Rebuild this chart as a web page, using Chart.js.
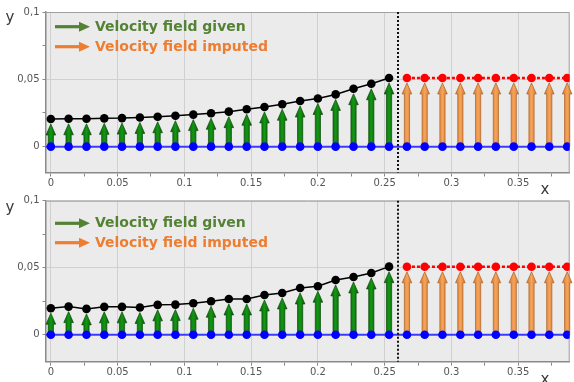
<!DOCTYPE html>
<html><head><meta charset="utf-8">
<script src="https://cdn.jsdelivr.net/npm/chart.js@4.4.1/dist/chart.umd.min.js"></script>
<style>
html,body{margin:0;padding:0;background:#fff;width:574px;height:382px;overflow:hidden;}
.wrap{position:absolute;left:0;width:574px;}
#w1{top:0;height:200px;}
#w2{top:190px;height:192px;}
</style></head><body>
<div class="wrap" id="w1"><canvas id="c1"></canvas></div>
<div class="wrap" id="w2"><canvas id="c2"></canvas></div>
<script>
// ---- data ----
const xGiven = [0, 0.0133, 0.0267, 0.04, 0.0533, 0.0667, 0.08, 0.0933, 0.1067, 0.12,
                0.1333, 0.1467, 0.16, 0.1733, 0.1867, 0.2, 0.2133, 0.2267, 0.24, 0.2533];
const xImputed = [0.2667, 0.28, 0.2933, 0.3067, 0.32, 0.3333, 0.3467, 0.36, 0.3733, 0.3867];
const topGiven = [0.0205, 0.0207, 0.0207, 0.0210, 0.0212, 0.0217, 0.0222, 0.0230, 0.0238, 0.0248,
                  0.0260, 0.0278, 0.0295, 0.0315, 0.0339, 0.0358, 0.0388, 0.0430, 0.0467, 0.0510];
const topImputed = [0.051, 0.051, 0.051, 0.051, 0.051, 0.051, 0.051, 0.051, 0.051, 0.051];
const bottomGiven = [0.0198, 0.0210, 0.0193, 0.0208, 0.0208, 0.0203, 0.0223, 0.0225, 0.0235, 0.0250,
                     0.0267, 0.0267, 0.0297, 0.0312, 0.0349, 0.0362, 0.0409, 0.0431, 0.0461, 0.0508];
const bottomImputed = [0.0507, 0.0507, 0.0507, 0.0507, 0.0507, 0.0507, 0.0507, 0.0507, 0.0507, 0.0507];
const xTickValues = [0, 0.025, 0.05, 0.075, 0.1, 0.125, 0.15, 0.175, 0.2, 0.225, 0.25, 0.275, 0.3, 0.325, 0.35, 0.375];
const xTickLabels = ['0', '', '0.05', '', '0.1', '', '0.15', '', '0.2', '', '0.25', '', '0.3', '', '0.35', ''];
const yTickValues = [0, 0.025, 0.05, 0.075, 0.1];
const yTickLabels = ['0', '', '0,05', '', '0,1'];
const legendLabels = ['Velocity field given', 'Velocity field imputed'];
const splitX = 0.26;
const xRange = [-0.004, 0.3886];
const xTitle = 'x', yTitle = 'y';

// ---- styles ----
const FONT = "'DejaVu Sans', Verdana, sans-serif";
const greenArrow = {fill1: '#0a600a', fill2: '#139613', edge: '#0a4a0a'};
const orangeArrow = {fill1: '#d27a30', fill2: '#f6a45a', edge: '#a85e22'};
const legendColors = ['#548235', '#ED7D31'];

function drawArrow(ctx, px, y0, y1, st) {
  const sw = 2.6, hw = 4.8, hl = 11;
  const g = ctx.createLinearGradient(px - hw, 0, px + hw, 0);
  g.addColorStop(0, st.fill1); g.addColorStop(0.5, st.fill2); g.addColorStop(1, st.fill1);
  ctx.beginPath();
  ctx.moveTo(px - sw, y0);
  ctx.lineTo(px - sw, y1 + hl);
  ctx.lineTo(px - hw, y1 + hl);
  ctx.lineTo(px, y1);
  ctx.lineTo(px + hw, y1 + hl);
  ctx.lineTo(px + sw, y1 + hl);
  ctx.lineTo(px + sw, y0);
  ctx.closePath();
  ctx.fillStyle = g; ctx.fill();
  ctx.strokeStyle = st.edge; ctx.lineWidth = 0.7; ctx.stroke();
}

const framePlugin = {
  id: 'frame',
  beforeDraw(chart) {
    const {ctx, chartArea: a} = chart;
    ctx.save();
    ctx.fillStyle = '#ebebeb';
    ctx.fillRect(a.left, a.top, a.right - a.left, a.bottom - a.top);
    ctx.restore();
  },
  beforeDatasetsDraw(chart) {
    const {ctx, chartArea: a, scales: {x, y}} = chart;
    ctx.save();
    ctx.strokeStyle = '#a0a0a0'; ctx.lineWidth = 1;
    ctx.beginPath();
    ctx.moveTo(a.left, a.top + 0.5); ctx.lineTo(a.right - 0.5, a.top + 0.5); ctx.lineTo(a.right - 0.5, a.bottom);
    ctx.stroke();
    // arrows
    chart.data.datasets.forEach(ds => {
      if (!ds.arrowStyle) return;
      ds.data.forEach(p => {
        const px = x.getPixelForValue(p.x);
        const y0 = y.getPixelForValue(0);
        const y1 = y.getPixelForValue(p.y) + 5;
        drawArrow(ctx, px, y0, y1, ds.arrowStyle);
      });
    });
    ctx.restore();
  },
  afterDatasetsDraw(chart) {
    const {ctx, chartArea: a, scales: {x}} = chart;
    const opts = chart.options.plugins.frame;
    ctx.save();
    // split line
    const sx = x.getPixelForValue(splitX);
    ctx.strokeStyle = '#111'; ctx.lineWidth = 2; ctx.setLineDash([2, 2]);
    ctx.beginPath(); ctx.moveTo(sx, a.top); ctx.lineTo(sx, a.bottom); ctx.stroke();
    ctx.setLineDash([]);
    // legend
    legendLabels.forEach((lab, i) => {
      const ly = opts.legendY[i];
      const c = legendColors[i];
      ctx.strokeStyle = c; ctx.fillStyle = c; ctx.lineWidth = 3.2;
      ctx.beginPath(); ctx.moveTo(55, ly); ctx.lineTo(81, ly); ctx.stroke();
      ctx.beginPath(); ctx.moveTo(79, ly - 5); ctx.lineTo(90, ly); ctx.lineTo(79, ly + 5); ctx.closePath(); ctx.fill();
      ctx.font = 'bold 14px ' + FONT;
      ctx.textBaseline = 'middle'; ctx.textAlign = 'left';
      ctx.fillText(lab, 95, ly + 0.5);
    });
    // axis titles
    ctx.fillStyle = '#3a3a3a';
    ctx.font = '15px ' + FONT;
    ctx.textBaseline = 'alphabetic'; ctx.textAlign = 'center';
    ctx.fillText(yTitle, 10, opts.yTitleY);
    ctx.fillText(xTitle, 545, opts.xTitleY);
    ctx.restore();
  }
};

function makeChart(id, given, imputed, cfg) {
  const pts = (xs, ys) => xs.map((x, i) => ({x: x, y: ys[i]}));
  const base = [...xGiven, ...xImputed].map(x => ({x: x, y: 0}));
  return new Chart(document.getElementById(id), {
    type: 'scatter',
    data: {datasets: [
      {label: legendLabels[0], data: pts(xGiven, given), showLine: true, borderColor: '#000', borderWidth: 1.5,
       pointRadius: 4.3, pointBackgroundColor: '#000', pointBorderWidth: 0, arrowStyle: greenArrow, order: 1},
      {label: legendLabels[1], data: pts(xImputed, imputed), showLine: true, borderColor: '#ff0000', borderDash: [3, 2],
       borderWidth: 2.5, pointRadius: 4.3, pointBackgroundColor: '#ff0000', pointBorderWidth: 0, arrowStyle: orangeArrow, order: 1},
      {label: 'points', data: base, showLine: false, pointRadius: 4.3, pointBackgroundColor: '#0000ff', pointBorderWidth: 0, order: 2},
      {label: 'axis', data: [{x: xRange[0], y: 0}, {x: xRange[1], y: 0}], showLine: true, borderColor: '#3a3aff',
       borderWidth: 2, pointRadius: 0, order: 3}
    ]},
    options: {
      responsive: true, maintainAspectRatio: false, animation: false,
      layout: {padding: cfg.padding},
      plugins: {legend: {display: false}, tooltip: {enabled: false}, frame: cfg.frame},
      scales: {
        x: {type: 'linear', min: xRange[0], max: xRange[1],
            afterBuildTicks: s => { s.ticks = xTickValues.map(v => ({value: v})); },
            afterFit: s => { s.height = 18; },
            ticks: {callback: (v, i) => xTickLabels[i], font: {family: FONT, size: 10}, color: '#555',
                    padding: 1, maxRotation: 0, minRotation: 0, autoSkip: false},
            grid: {color: c => (c.index % 2 === 0 ? '#d0d0d0' : 'rgba(0,0,0,0)'), tickColor: '#8a8a8a', tickLength: 4, lineWidth: 1},
            border: {color: '#8a8a8a', width: 1.5}},
        y: {type: 'linear', min: cfg.yMin, max: 0.1,
            afterBuildTicks: s => { s.ticks = yTickValues.map(v => ({value: v})); },
            afterFit: s => { s.width = 45.5; },
            ticks: {callback: (v, i) => yTickLabels[i], font: {family: FONT, size: 10}, color: '#555', padding: 3},
            grid: {color: c => (c.index % 2 === 0 ? '#d0d0d0' : 'rgba(0,0,0,0)'), tickColor: '#8a8a8a', tickLength: 3, lineWidth: 1},
            border: {color: '#8a8a8a', width: 1.5}}
      }
    },
    plugins: [framePlugin]
  });
}

makeChart('c1', topGiven, topImputed, {
  yMin: -0.0192, padding: {top: 12, right: 1, bottom: 9.5, left: 0},
  frame: {legendY: [26.7, 46.7], yTitleY: 22, xTitleY: 194}
});
makeChart('c2', bottomGiven, bottomImputed, {
  yMin: -0.0201, padding: {top: 10.7, right: 1, bottom: 2.3, left: 0},
  frame: {legendY: [33.3, 52.7], yTitleY: 22, xTitleY: 194}
});
</script>
</body></html>
